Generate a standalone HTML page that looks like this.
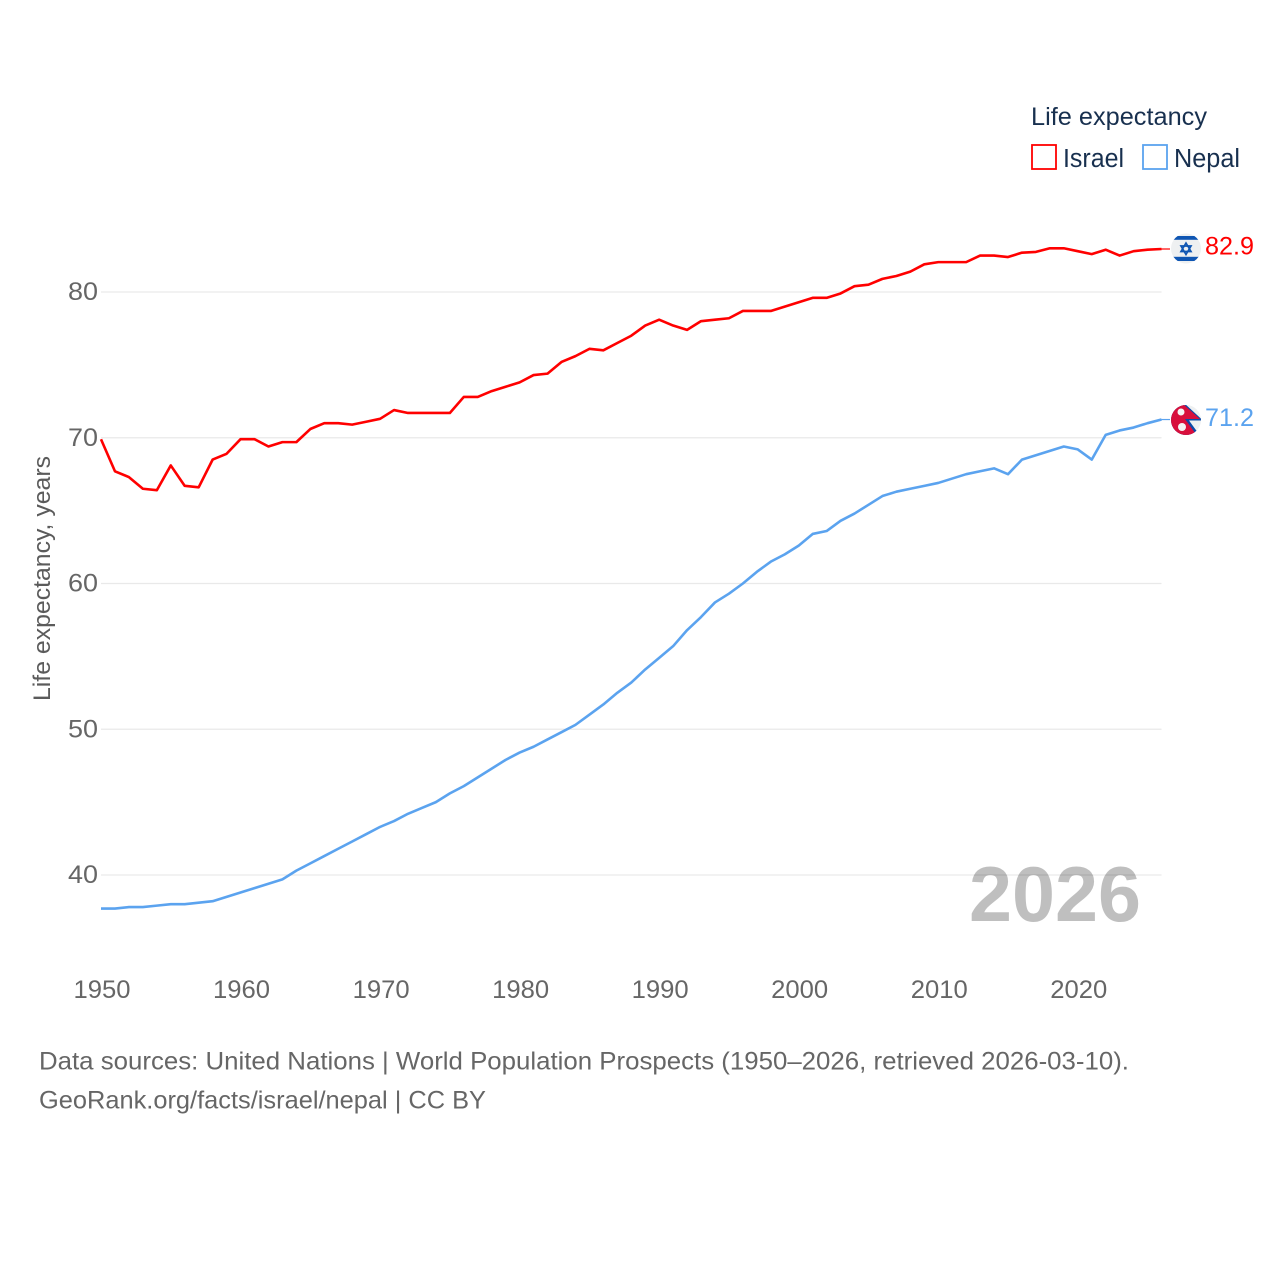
<!DOCTYPE html>
<html lang="en">
<head>
<meta charset="utf-8">
<title>Life expectancy: Israel and Nepal</title>
<style>
html,body{margin:0;padding:0;background:#fff;}
svg{display:block;font-family:"Liberation Sans",sans-serif;}
</style>
</head>
<body>
<svg id="chart" xmlns="http://www.w3.org/2000/svg" width="1280" height="1280" viewBox="0 0 1280 1280">
  <defs>
    <clipPath id="flag-clip-il"><circle cx="1186" cy="248.5" r="15"/></clipPath>
    <clipPath id="flag-clip-np"><circle cx="1186" cy="420" r="15"/></clipPath>
  </defs>
  <rect width="1280" height="1280" fill="#fff"/>
  <g id="grid"></g>
  <g id="yticks"></g>
  <g id="xticks"></g>
  <text transform="translate(50,701) rotate(-90)" font-size="24" fill="#5b5b5b" textLength="245" lengthAdjust="spacingAndGlyphs">Life expectancy, years</text>
  <text x="969" y="921" font-size="78" font-weight="700" fill="#000" fill-opacity="0.25" textLength="172" lengthAdjust="spacingAndGlyphs">2026</text>
  <g id="series"></g>

  <g>
    <text x="1031" y="125" font-size="25" fill="#18304f" textLength="176" lengthAdjust="spacingAndGlyphs">Life expectancy</text>
    <g>
      <rect x="1032" y="145" width="24" height="24" fill="#fff" stroke="#ff0000" stroke-width="1.8"/>
      <text x="1063" y="167" font-size="25.5" fill="#18304f" textLength="61" lengthAdjust="spacingAndGlyphs">Israel</text>
    </g>
    <g>
      <rect x="1143" y="145" width="24" height="24" fill="#fff" stroke="#5ba3ef" stroke-width="1.8"/>
      <text x="1174" y="167" font-size="25.5" fill="#18304f" textLength="66" lengthAdjust="spacingAndGlyphs">Nepal</text>
    </g>
  </g>

  <g clip-path="url(#flag-clip-il)">
    <rect x="1171" y="233" width="30" height="31" fill="#eef0f1"/>
    <rect x="1171" y="236" width="30" height="3.8" fill="#0f56b3"/>
    <rect x="1171" y="256.8" width="30" height="4.2" fill="#0f56b3"/>
    <polygon points="1186,243 1191,251.5 1181,251.5" fill="none" stroke="#0f56b3" stroke-width="1.7"/>
    <polygon points="1186,254.5 1191,246 1181,246" fill="none" stroke="#0f56b3" stroke-width="1.7"/>
  </g>
  <g clip-path="url(#flag-clip-np)">
    <rect x="1171" y="405" width="30" height="30" fill="#eef0f1"/>
    <polygon points="1171,403 1184,403 1203,420.5 1189,420.5 1201,437 1171,437" fill="#0b4aa8"/>
    <polygon points="1171,403 1182,403 1200,419 1185,419 1198,437 1171,437" fill="#d80f3c"/>
    <circle cx="1181" cy="412" r="3.5" fill="#f4f4f4"/>
    <circle cx="1182" cy="427" r="4" fill="#f4f4f4"/>
  </g>

  <text id="label-il" x="1205" y="254.5" font-size="25" fill="#ff0000" textLength="49" lengthAdjust="spacingAndGlyphs"></text>
  <text id="label-np" x="1205" y="426" font-size="25" fill="#5ba3ef" textLength="49" lengthAdjust="spacingAndGlyphs"></text>

  <g>
    <text x="39" y="1069.5" font-size="25" fill="#666" textLength="1090" lengthAdjust="spacingAndGlyphs">Data sources: United Nations | World Population Prospects (1950–2026, retrieved 2026-03-10).</text>
    <text x="39" y="1108.5" font-size="25" fill="#666" textLength="447" lengthAdjust="spacingAndGlyphs">GeoRank.org/facts/israel/nepal | CC BY</text>
  </g>
</svg>
<script>
const startYear = 1950;
const endYear = 2026;
const xTickYears = [1950, 1960, 1970, 1980, 1990, 2000, 2010, 2020];
const yTickValues = [40, 50, 60, 70, 80];
const israelValues = [
  69.9, 67.7, 67.3, 66.5, 66.4, 68.1, 66.7, 66.6, 68.5, 68.9,
  69.9, 69.9, 69.4, 69.7, 69.7, 70.6, 71.0, 71.0, 70.9, 71.1,
  71.3, 71.9, 71.7, 71.7, 71.7, 71.7, 72.8, 72.8, 73.2, 73.5,
  73.8, 74.3, 74.4, 75.2, 75.6, 76.1, 76.0, 76.5, 77.0, 77.7,
  78.1, 77.7, 77.4, 78.0, 78.1, 78.2, 78.7, 78.7, 78.7, 79.0,
  79.3, 79.6, 79.6, 79.9, 80.4, 80.5, 80.9, 81.1, 81.4, 81.9,
  82.05, 82.05, 82.05, 82.5, 82.5, 82.4, 82.7, 82.75, 83.0, 83.0,
  82.8, 82.6, 82.9, 82.5, 82.8, 82.9, 82.95
];
const nepalValues = [
  37.7, 37.7, 37.8, 37.8, 37.9, 38.0, 38.0, 38.1, 38.2, 38.5,
  38.8, 39.1, 39.4, 39.7, 40.3, 40.8, 41.3, 41.8, 42.3, 42.8,
  43.3, 43.7, 44.2, 44.6, 45.0, 45.6, 46.1, 46.7, 47.3, 47.9,
  48.4, 48.8, 49.3, 49.8, 50.3, 51.0, 51.7, 52.5, 53.2, 54.1,
  54.9, 55.7, 56.8, 57.7, 58.7, 59.3, 60.0, 60.8, 61.5, 62.0,
  62.6, 63.4, 63.6, 64.3, 64.8, 65.4, 66.0, 66.3, 66.5, 66.7,
  66.9, 67.2, 67.5, 67.7, 67.9, 67.5, 68.5, 68.8, 69.1, 69.4,
  69.2, 68.5, 70.2, 70.5, 70.7, 71.0, 71.25
];
const israelEndLabel = "82.9";
const nepalEndLabel = "71.2";

const NS = "http://www.w3.org/2000/svg";
const xLeft = 101, xRight = 1161.5;
const yAt40 = 875, pxPerUnit = 14.575;
function xScale(year) {
  return xLeft + (year - startYear) * (xRight - xLeft) / (endYear - startYear);
}
function yScale(value) {
  return yAt40 - (value - 40) * pxPerUnit;
}
function make(tag, attrs, parent) {
  const el = document.createElementNS(NS, tag);
  for (const k in attrs) el.setAttribute(k, attrs[k]);
  parent.appendChild(el);
  return el;
}

const grid = document.getElementById("grid");
const yticks = document.getElementById("yticks");
const xticks = document.getElementById("xticks");
const series = document.getElementById("series");

yTickValues.forEach(function (v) {
  const line = make("line", {x1: xLeft, x2: xRight, y1: yScale(v), y2: yScale(v), stroke: "#e9e9e9", "stroke-width": 1.3}, grid);
  
  
  const label = make("text", {x: 98, y: yScale(v) + 8, "text-anchor": "end", "font-size": 25, fill: "#666", textLength: 30, lengthAdjust: "spacingAndGlyphs"}, yticks);
  
  
  label.textContent = String(v);
});

xTickYears.forEach(function (yr) {
  const label = make("text", {x: xScale(yr) + 1, y: 998, "text-anchor": "middle", "font-size": 25, fill: "#666", textLength: 57, lengthAdjust: "spacingAndGlyphs"}, xticks);
  
  
  label.textContent = String(yr);
});

function drawSeries(values, color, name) {
  const pts = values.map(function (v, i) {
    return xScale(startYear + i).toFixed(2) + "," + yScale(v).toFixed(2);
  }).join(" ");
  const line = make("polyline", {points: pts, fill: "none", stroke: color, "stroke-width": 2.6, "stroke-linejoin": "round", "stroke-linecap": "butt"}, series);
  
  
  const lastY = yScale(values[values.length - 1]);
  const conn = make("line", {x1: xRight, x2: 1170, y1: lastY, y2: lastY, stroke: color, "stroke-width": 1.2}, series);
  
  
}
drawSeries(israelValues, "#ff0000", "israel");
drawSeries(nepalValues, "#5ba3ef", "nepal");

document.getElementById("label-il").textContent = israelEndLabel;
document.getElementById("label-np").textContent = nepalEndLabel;
</script>
</body>
</html>
